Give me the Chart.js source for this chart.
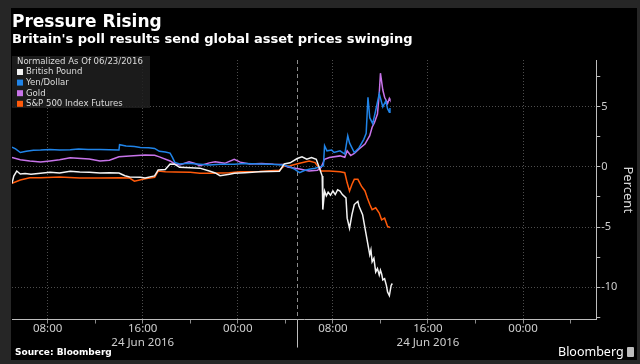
<!DOCTYPE html>
<html>
<head>
<meta charset="utf-8">
<script src="https://cdn.jsdelivr.net/npm/chart.js@4/dist/chart.umd.min.js"></script>
<style>
  html, body { margin: 0; padding: 0; background: #262626; }
  body { width: 640px; height: 364px; position: relative; overflow: hidden; }
  #panel { position: absolute; left: 11px; top: 8px; width: 626px; height: 352px; background: #000; }
  #grafica { position: absolute; left: 0; top: 0; }
  .titulo { position: absolute; left: 12px; top: 11px; color: #fff; font: bold 17px/20px "DejaVu Sans", sans-serif; white-space: nowrap; }
  .subtitulo { position: absolute; left: 12px; top: 31px; color: #fff; font: bold 13px/16px "DejaVu Sans", sans-serif; white-space: nowrap; }
  .fuente { position: absolute; left: 15px; top: 346px; color: #fff; font: bold 9px/12px "DejaVu Sans", sans-serif; }
  .logo { position: absolute; left: 558px; top: 344px; color: #fff; font: 12.5px/16px "Noto Sans", sans-serif; }
  .icono { position: absolute; left: 627px; top: 347px; width: 7px; height: 10px; background: #bdbdbd; border-radius: 1px; }
</style>
</head>
<body>
<div id="panel"></div>
<canvas id="grafica" width="640" height="364"></canvas>
<div class="titulo">Pressure Rising</div>
<div class="subtitulo">Britain's poll results send global asset prices swinging</div>
<div class="fuente">Source: Bloomberg</div>
<div class="logo">Bloomberg</div>
<div class="icono"></div>
<script>
// horas desde el inicio del eje (05:00), valores en %
const poundHours = [0, 0.15, 0.4, 0.7, 1.1, 1.6, 2.4, 3.2, 4.0, 4.9, 5.7, 6.5, 7.4, 8.2, 9.0, 9.5, 9.9, 10.8, 11.2, 12.0, 12.3, 12.9, 13.3, 13.7, 14.1, 15.0, 15.8, 16.6, 17.1, 17.5, 18.3, 18.7, 19.6, 20.8, 22.5, 22.9, 23.4, 24.0, 24.4, 24.8, 25.2, 25.6, 25.9, 26.1, 26.15, 26.3, 26.45, 26.6, 26.8, 27.0, 27.2, 27.4, 27.6, 27.8, 28.1, 28.2, 28.4, 28.6, 28.8, 29.1, 29.2, 29.5, 29.7, 29.9, 30.1, 30.2, 30.3, 30.45, 30.6, 30.75, 30.9, 31.0, 31.1, 31.2, 31.35, 31.5, 31.6, 31.75, 31.9, 32.0];
const poundValues = [-1.37, -0.76, -0.34, -0.59, -0.55, -0.6, -0.53, -0.45, -0.5, -0.36, -0.42, -0.45, -0.5, -0.48, -0.5, -0.73, -0.84, -0.86, -0.92, -0.75, -0.25, -0.22, 0.25, 0.22, -0.03, -0.06, -0.1, -0.34, -0.5, -0.73, -0.6, -0.53, -0.48, -0.4, -0.35, 0.25, 0.34, 0.7, 0.84, 0.64, 0.78, 0.64, -0.2, -0.76, -3.55, -2.0, -2.4, -2.1, -2.35, -2.0, -2.3, -1.9, -2.0, -2.3, -2.58, -4.26, -5.1, -3.97, -3.13, -2.86, -3.28, -3.97, -5.1, -6.2, -7.3, -6.9, -7.9, -7.6, -8.74, -8.46, -9.0, -8.6, -8.9, -9.4, -9.3, -9.86, -10.4, -10.7, -9.86, -9.7];

const yenHours = [0, 0.3, 0.7, 1.2, 1.8, 2.4, 3.2, 4.0, 4.9, 5.6, 6.4, 7.4, 8.2, 9.0, 9.05, 9.6, 10.3, 10.8, 11.5, 12.0, 12.4, 12.9, 13.3, 13.5, 13.7, 14.1, 14.8, 15.8, 16.6, 17.5, 18.7, 19.6, 20.8, 21.8, 22.8, 23.4, 23.8, 24.2, 24.6, 25.0, 25.5, 25.9, 26.2, 26.3, 26.5, 26.9, 27.1, 27.6, 28.0, 28.25, 28.4, 28.8, 29.2, 29.6, 29.8, 29.95, 30.1, 30.35, 30.6, 30.9, 31.2, 31.45, 31.6, 31.75, 31.8];
const yenValues = [1.65, 1.5, 1.2, 1.3, 1.38, 1.4, 1.45, 1.4, 1.43, 1.5, 1.45, 1.45, 1.43, 1.42, 1.85, 1.75, 1.7, 1.62, 1.6, 1.54, 1.3, 1.25, 1.15, 0.8, 0.38, 0.25, 0.3, 0.22, 0.17, 0.22, 0.22, 0.28, 0.25, 0.22, 0.17, 0.0, -0.2, -0.48, -0.3, -0.2, -0.1, 0.0, 0.1, 1.76, 1.34, 1.4, 1.2, 1.34, 1.07, 2.6, 2.0, 1.2, 1.6, 2.3, 2.8, 5.8, 4.1, 3.6, 4.7, 6.1, 5.0, 5.5, 4.85, 4.56, 4.9];

const goldHours = [0, 0.7, 1.5, 2.4, 3.2, 4.0, 4.9, 5.5, 6.5, 7.4, 8.2, 9.0, 9.9, 11.2, 12.0, 12.4, 13.3, 13.7, 14.1, 14.9, 15.4, 15.8, 16.6, 17.1, 17.9, 18.7, 19.2, 20.0, 21.0, 22.0, 22.8, 23.2, 24.2, 25.0, 25.7, 26.0, 26.3, 26.7, 27.6, 28.0, 28.2, 28.5, 28.8, 29.2, 29.7, 30.1, 30.3, 30.5, 30.75, 30.9, 31.0, 31.2, 31.35, 31.6, 31.75, 31.8];
const goldValues = [0.78, 0.6, 0.5, 0.42, 0.5, 0.59, 0.76, 0.72, 0.67, 0.5, 0.56, 0.84, 0.92, 1.0, 0.97, 0.84, 0.5, 0.25, 0.17, 0.42, 0.28, 0.1, 0.34, 0.44, 0.3, 0.64, 0.4, 0.25, 0.28, 0.22, 0.2, 0.0, -0.17, -0.34, -0.28, -0.05, 0.64, 0.78, 0.92, 0.8, 1.34, 0.95, 1.12, 1.49, 1.9, 2.6, 3.3, 3.7, 4.4, 6.1, 7.8, 6.4, 5.8, 5.27, 5.7, 5.6];

const spxHours = [0, 0.7, 1.5, 2.4, 4.0, 5.7, 7.4, 9.1, 9.9, 10.3, 11.2, 12.0, 12.3, 12.9, 13.7, 15.0, 15.8, 16.6, 17.5, 18.3, 19.2, 20.8, 22.5, 22.9, 23.4, 24.2, 25.0, 25.5, 26.0, 26.7, 27.6, 28.0, 28.2, 28.4, 28.6, 28.8, 29.1, 29.4, 29.7, 29.9, 30.1, 30.3, 30.6, 30.9, 31.1, 31.35, 31.6, 31.8];
const spxValues = [-1.37, -1.09, -0.9, -0.9, -0.84, -0.92, -0.92, -0.9, -0.92, -1.18, -0.98, -0.87, -0.34, -0.4, -0.42, -0.45, -0.53, -0.53, -0.5, -0.48, -0.4, -0.37, -0.28, 0.08, 0.1, 0.31, 0.5, 0.36, -0.34, -0.34, -0.4, -0.48, -1.32, -2.0, -1.46, -1.03, -1.03, -1.6, -2.0, -2.58, -3.1, -3.55, -3.4, -3.84, -4.4, -4.26, -4.96, -5.04];

const seriesNames = ["British Pound", "Yen/Dollar", "Gold", "S&P 500 Index Futures"];
const seriesColors = ["#f2f2f2", "#2084e8", "#c874ea", "#ff5a0a"];
const legendHeader = "Normalized As Of 06/23/2016";

const tickHours = [3, 7, 11, 15, 19, 23, 27, 31, 35, 39, 43, 47];
const tickLabels = ["08:00", "", ["16:00", "24 Jun 2016"], "", "00:00", "", "08:00", "", ["16:00", "24 Jun 2016"], "", "00:00", ""];
const dividerHour = 24;
const yTicks = [-12.5, -10, -7.5, -5, -2.5, 0, 2.5, 5, 7.5];

function puntos(horas, valores) {
    return horas.map((h, i) => ({ x: h, y: valores[i] }));
}

const divisor = {
    id: "divisor",
    beforeDatasetsDraw(chart) {
        const { ctx, chartArea } = chart;
        const x = Math.round(chart.scales.x.getPixelForValue(dividerHour)) + 0.5;
        ctx.save();
        ctx.strokeStyle = "#8c8c8c";
        ctx.lineWidth = 1;
        ctx.setLineDash([4, 3]);
        ctx.beginPath();
        ctx.moveTo(x, chartArea.top);
        ctx.lineTo(x, chartArea.bottom);
        ctx.stroke();
        ctx.setLineDash([]);
        ctx.strokeStyle = "#bdbdbd";
        ctx.beginPath();
        ctx.moveTo(x, chartArea.bottom);
        ctx.lineTo(x, chartArea.bottom + 28);
        ctx.stroke();
        ctx.restore();
    },
};

const leyenda = {
    id: "leyenda",
    afterDraw(chart) {
        const { ctx, chartArea } = chart;
        const x0 = chartArea.left;
        const y0 = chartArea.top - 4;
        ctx.save();
        ctx.fillStyle = "rgba(32,32,32,0.85)";
        ctx.fillRect(x0, y0, 138, 52);
        ctx.font = "9.5px 'DejaVu Sans Condensed', 'DejaVu Sans', sans-serif";
        ctx.textBaseline = "middle";
        ctx.fillStyle = "#dcdcdc";
        ctx.fillText(legendHeader, x0 + 5, y0 + 6);
        chart.data.datasets.forEach((ds, i) => {
            const yc = y0 + 16 + i * 10.6;
            ctx.fillStyle = ds.borderColor;
            ctx.fillRect(x0 + 5, yc - 3, 6, 6);
            ctx.fillStyle = "#dcdcdc";
            ctx.fillText(ds.label, x0 + 14, yc);
        });
        ctx.restore();
    },
};

const datos = [
    puntos(poundHours, poundValues),
    puntos(yenHours, yenValues),
    puntos(goldHours, goldValues),
    puntos(spxHours, spxValues),
];

const grafica = new Chart(document.getElementById("grafica"), {
    type: "line",
    data: {
        datasets: datos.map((d, i) => ({
            label: seriesNames[i],
            data: d,
            borderColor: seriesColors[i],
            borderWidth: 1.5,
            pointRadius: 0,
            tension: 0,
        })),
    },
    options: {
        responsive: false,
        animation: false,
        layout: { padding: { left: 12, top: 60, right: 0, bottom: 16 } },
        plugins: {
            legend: { display: false },
            tooltip: { enabled: false },
        },
        scales: {
            x: {
                type: "linear",
                min: 0,
                max: 49.16,
                afterBuildTicks: (scale) => {
                    scale.ticks = tickHours.map((h) => ({ value: h }));
                },
                ticks: {
                    autoSkip: false,
                    maxRotation: 0,
                    padding: -1,
                    color: "#cfcfcf",
                    font: { family: "Noto Sans", size: 11.5, lineHeight: 1.15 },
                    callback: (value, index) => tickLabels[index],
                },
                grid: {
                    color: (ctx) => (tickLabels[ctx.index] ? "#4d4d4d" : "rgba(0,0,0,0)"),
                    tickColor: "#8a8a8a",
                    tickLength: 4,
                },
                border: { color: "#bdbdbd", dash: [1, 2] },
            },
            y: {
                position: "right",
                min: -12.7,
                max: 8.9,
                afterBuildTicks: (scale) => {
                    scale.ticks = yTicks.map((v) => ({ value: v }));
                },
                ticks: {
                    padding: 1,
                    color: "#cfcfcf",
                    font: { family: "Noto Sans", size: 11 },
                    callback: (value) => (value % 5 === 0 ? String(value) : ""),
                },
                grid: {
                    color: (ctx) => (ctx.tick && ctx.tick.value % 5 === 0 ? "#4d4d4d" : "rgba(0,0,0,0)"),
                    tickColor: "#bdbdbd",
                    tickLength: 4,
                },
                border: { color: "#bdbdbd", dash: [1, 2] },
                title: {
                    display: true,
                    text: "Percent",
                    color: "#d8d8d8",
                    font: { family: "Noto Sans", size: 13 },
                    padding: { top: 4, bottom: 2 },
                },
            },
        },
    },
    plugins: [divisor, leyenda],
});
</script>
</body>
</html>
